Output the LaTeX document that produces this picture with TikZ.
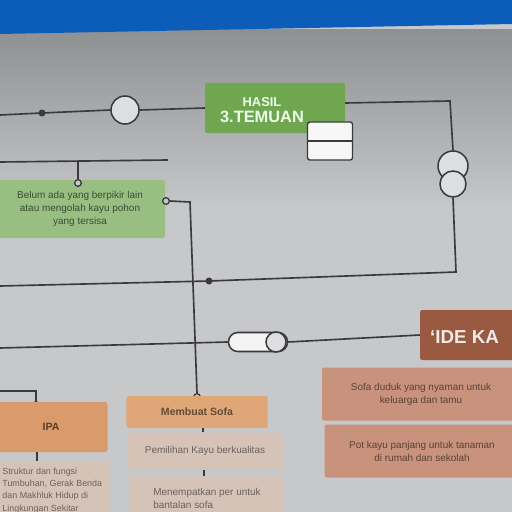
\documentclass[tikz,border=0pt]{standalone}
\usepackage{fontspec}
\setmainfont{Liberation Sans}
\definecolor{bandc}{HTML}{0B5DB9}
\definecolor{bgc}{HTML}{C7C8CA}
\definecolor{bgtop}{HTML}{8F9092}
\definecolor{wirec}{HTML}{3A3A3C}
\definecolor{hasilc}{HTML}{6FA64F}
\definecolor{pohonc}{HTML}{98BE82}
\definecolor{idec}{HTML}{9A5A42}
\definecolor{idelight}{HTML}{C8927C}
\definecolor{ipac}{HTML}{D99B6B}
\definecolor{sofac}{HTML}{DFA678}
\definecolor{isic}{HTML}{D6C3B8}

\begin{document}
\begin{tikzpicture}[x=0.03cm,y=-0.03cm,
  wire/.style={draw=wirec,line width=1.4pt},
  ring/.style={circle,draw=wirec,line width=1.3pt,fill=bgc!60!white,inner sep=0pt},
  pin/.style={circle,draw=wirec,line width=1.1pt,fill=bgc,inner sep=0pt,minimum size=0.2cm},
  card/.style={rounded corners=2pt,inner sep=1pt,align=center},
  tiny/.style={font=\fontsize{8.5}{11}\selectfont}]
\useasboundingbox (0,0) rectangle (512,512);
\clip (0,0) rectangle (512,512);
% background and blue band
\fill[bgc] (0,0) rectangle (512,512);
\shade[top color=bgtop,bottom color=bgc] (0,30) rectangle (512,210);
\fill[bandc] (0,0) -- (512,0) -- (512,24) -- (0,34) -- cycle;

% top row
\node[card,fill=hasilc,minimum width=4.2cm,minimum height=1.5cm] (hasil) at (275,108) {};
\node[text=white!92!green,align=center,font=\bfseries,inner sep=0pt] (hasilTxt) at (262,110)
  {{\fontsize{11}{11}\selectfont HASIL}\\[1pt]{\fontsize{14}{14}\selectfont 3.TEMUAN}};
\node[ring,minimum size=0.84cm] (ringA) at (125,110) {};
\fill[wirec] (42,113) circle (3pt) coordinate (dotA);
\coordinate (inA) at (0,115);
\draw[wire] (inA) -- (dotA) -- (ringA.west);
\draw[wire] (ringA.east) -- (hasil.west);
\node[rectangle,rounded corners=2pt,draw=wirec,line width=1.2pt,fill=white!85!bgc,
  minimum width=1.35cm,minimum height=1.14cm,
  path picture={\draw[wirec,line width=1pt] (path picture bounding box.west) -- (path picture bounding box.east);}]
  (cell) at (330,141) {};
\coordinate (bendA) at (450,101);
\node[ring,minimum size=0.9cm] (knotTop) at (453,166) {};
\node[ring,minimum size=0.78cm] (knotBot) at (453,184) {};
\draw[wire] (hasil.east) ++(0,-5) -- (bendA) -- (knotTop.north);
\coordinate (bendB) at (456,272);
\fill[wirec] (209,281) circle (3pt) coordinate (dotB);
\coordinate (outB) at (0,286);
\draw[wire] (knotBot.south) -- (bendB) -- (dotB) -- (outB);

% green card
\coordinate (inC) at (0,162);
\coordinate (endC) at (168,160);
\draw[wire] (inC) -- (endC);
\node[card,fill=pohonc,minimum width=5.1cm,minimum height=1.74cm,text=black!60!pohonc,tiny]
  (pohon) at (80,209) {Belum ada yang berpikir lain\\atau mengolah kayu pohon\\yang tersisa};
\node[pin] (pinPohon) at (78,183) {};
\draw[wire] (78,161) -- (pinPohon.north);
\node[pin] (pinPohonR) at (166,201) {};
\node[pin] (pinSofa) at (197,397) {};
\coordinate (bendD) at (190,202);
\draw[wire] (pinPohonR.east) -- (bendD) -- (pinSofa.north);

% capsule and IDE card
\node[rounded corners=0.28cm,draw=wirec,line width=1.3pt,fill=white!80!bgc,
  minimum width=1.77cm,minimum height=0.57cm] (kapsul) at (258,342) {};
\node[ring,minimum size=0.6cm] (kapsulRing) at (276,342) {};
\coordinate (inE) at (0,348);
\draw[wire] (inE) -- (kapsul.west);
\node[card,fill=idec,minimum width=3cm,minimum height=1.5cm] (ide) at (470,335) {};
\node[text=white!88!idec,font=\bfseries\fontsize{16}{16}\selectfont,anchor=west,inner sep=0pt] (ideTxt) at (430,337) {‘IDE KA};
\draw[wire] (kapsul.east) -- (ide.west);
\node[card,fill=idelight,minimum width=5.94cm,minimum height=1.59cm,text=black!55!idelight,tiny]
  (ideSofa) at (421,394) {Sofa duduk yang nyaman untuk\\keluarga dan tamu};
\node[card,fill=idelight,minimum width=5.85cm,minimum height=1.59cm,text=black!55!idelight,tiny]
  (idePot) at (422,451) {Pot kayu panjang untuk tanaman\\di rumah dan sekolah};

% IPA column
\coordinate (inF) at (0,391);
\node[pin] (ipaPin) at (36,405) {};
\draw[wire] (inF) -| (ipaPin.north);
\node[card,fill=ipac,minimum width=3.39cm,minimum height=1.5cm,text=black!60!ipac,
  font=\bfseries\fontsize{9}{10}\selectfont] (ipa) at (51,427) {IPA};
\node[card,fill=isic,minimum width=3.45cm,minimum height=1.75cm,text=black!50!isic,
  font=\fontsize{7.6}{10.5}\selectfont,align=left,anchor=north east] (ipaIsi) at (110,461)
  {Struktur dan fungsi\\Tumbuhan, Gerak Benda\\dan Makhluk Hidup di\\Lingkungan Sekitar};
\draw[wire] (ipa.south -| 37,0) -- (ipaIsi.north -| 37,0);

% sofa column
\node[card,fill=sofac,minimum width=4.23cm,minimum height=0.96cm,text=black!55!sofac,
  font=\bfseries\fontsize{9}{10}\selectfont] (sofa) at (197,412) {Membuat Sofa};
\node[card,fill=isic,minimum width=4.65cm,minimum height=1.11cm,text=black!50!isic,tiny]
  (kayu) at (205,451) {Pemilihan Kayu berkualitas};
\node[card,fill=isic,minimum width=4.62cm,minimum height=1.3cm,text=black!50!isic,tiny,align=left]
  (bantal) at (207,498) {Menempatkan per untuk\\bantalan sofa};
\draw[wire] (sofa.south -| 203,0) -- (kayu.north -| 203,0);
\draw[wire] (kayu.south -| 204,0) -- (bantal.north -| 204,0);
\end{tikzpicture}
\end{document}
